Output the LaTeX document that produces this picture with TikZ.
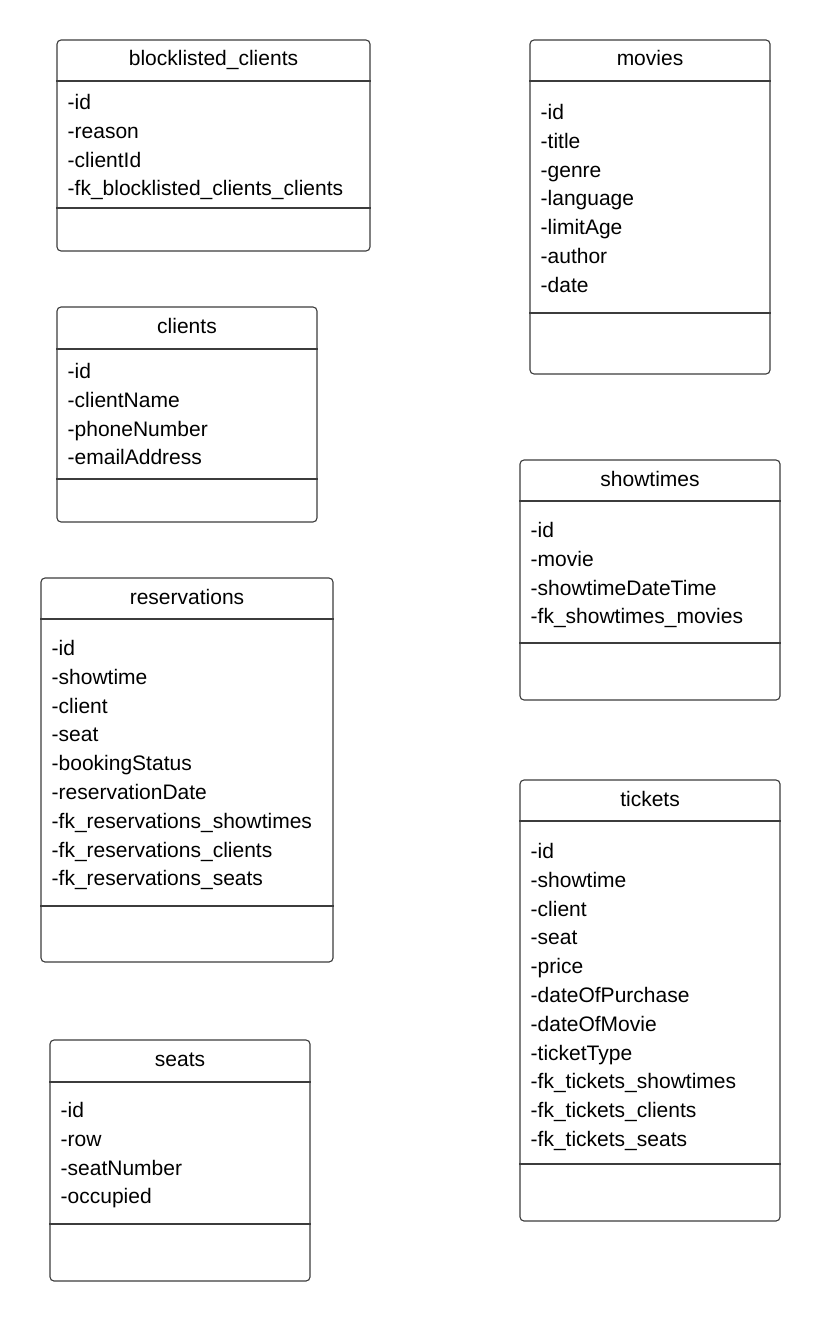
\documentclass[tikz,border=0pt]{standalone}
\usepackage{fontspec}
\setmainfont{Liberation Sans}
\usetikzlibrary{fit}
\definecolor{umlgray}{HTML}{3C3C3C}
\tikzset{
  umlbox/.style={draw=umlgray, line width=1.1pt, rounded corners=4pt, inner sep=0pt},
  umlrule/.style={draw=umlgray, line width=1.1pt},
  umltitle/.style={anchor=base, inner sep=0pt, font=\fontsize{21}{25}\selectfont},
  umlattr/.style={anchor=base west, inner sep=0pt, font=\fontsize{21}{25}\selectfont},
}
% class box: id, x1, y1, x2, y2, header rule y, divider rule y, title
\newcommand\umlclass[8]{%
  \node[umlbox, fit={(#2,#3) (#4,#5)}] (#1) {};
  \draw[umlrule] (#1.west |- #2,#6) -- (#1.east |- #4,#6);
  \draw[umlrule] (#1.west |- #2,#7) -- (#1.east |- #4,#7);
  \node[umltitle] (#1-title) at ({(#2+#4)/2},{(#3+#6)/2+5.5}) {#8};
}
% attribute rows: id, text x, first row y, list
\newcommand\umlattrs[4]{%
  \foreach \a [count=\i] in {#4}
    \node[umlattr] (#1-\i) at (#2,{#3+8.5+28.8*(\i-1)}) {\a};
}
\begin{document}
\begin{tikzpicture}[x=1pt,y=-1pt]
  \useasboundingbox[fill=white] (0,0) rectangle (820,1321);

  \umlclass{blk}{57}{40}{370}{251}{81}{208}{blocklisted\_clients}
  \umlattrs{blk}{67.5}{101}{-id,-reason,-clientId,-fk\_blocklisted\_clients\_clients}

  \umlclass{cli}{57}{307}{317}{522}{349}{479}{clients}
  \umlattrs{cli}{67.5}{370}{-id,-clientName,-phoneNumber,-emailAddress}

  \umlclass{res}{41}{578}{333}{962}{619}{906}{reservations}
  \umlattrs{res}{51.5}{647}{-id,-showtime,-client,-seat,-bookingStatus,-reservationDate,-fk\_reservations\_showtimes,-fk\_reservations\_clients,-fk\_reservations\_seats}

  \umlclass{seat}{50}{1040}{310}{1281}{1082}{1224}{seats}
  \umlattrs{seat}{60.5}{1109}{-id,-row,-seatNumber,-occupied}

  \umlclass{mov}{530}{40}{770}{374}{81}{313}{movies}
  \umlattrs{mov}{540.5}{111}{-id,-title,-genre,-language,-limitAge,-author,-date}

  \umlclass{show}{520}{460}{780}{700}{501}{643}{showtimes}
  \umlattrs{show}{530.5}{529}{-id,-movie,-showtimeDateTime,-fk\_showtimes\_movies}

  \umlclass{tick}{520}{780}{780}{1221}{821}{1164}{tickets}
  \umlattrs{tick}{530.5}{850}{-id,-showtime,-client,-seat,-price,-dateOfPurchase,-dateOfMovie,-ticketType,-fk\_tickets\_showtimes,-fk\_tickets\_clients,-fk\_tickets\_seats}
\end{tikzpicture}
\end{document}
